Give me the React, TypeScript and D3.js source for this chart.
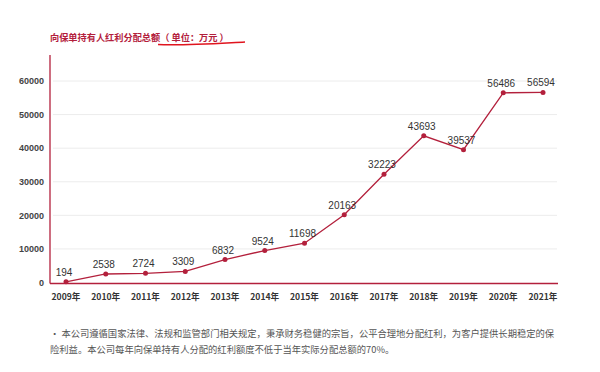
import React from "react";
import * as d3 from "d3";

const years = ["2009年","2010年","2011年","2012年","2013年","2014年","2015年","2016年","2017年","2018年","2019年","2020年","2021年"];
const values = [194, 2538, 2724, 3309, 6832, 9524, 11698, 20163, 32223, 43693, 39537, 56486, 56594];
const yTicks = [0, 10000, 20000, 30000, 40000, 50000, 60000];
const title = "向保单持有人红利分配总额";
const unit = "（ 单位：万元 ）";
const note1 = "• 本公司遵循国家法律、法规和监管部门相关规定，秉承财务稳健的宗旨，公平合理地分配红利，为客户提供长期稳定的保";
const note2 = "险利益。本公司每年向保单持有人分配的红利额度不低于当年实际分配总额的70%。";

const RED = "#b3203c";
const CJK = "'Noto Sans CJK SC', sans-serif";
const NUM = "'Liberation Sans', Arial, sans-serif";

export default function App() {
  const x = d3.scalePoint<string>().domain(years).range([66, 543]);
  const y = d3.scaleLinear().domain([0, 60000]).range([282.5, 81]);
  const line = d3.line<number>().x((_, i) => x(years[i])!).y(d => y(d));
  return (
    <svg width={600} height={372} style={{ position: "absolute", left: 0, top: 0, background: "#fff" }}>
      <rect width={600} height={372} fill="#fff" />
      <text x={50} y={41} fontFamily={CJK} fontSize={9.2} fontWeight="bold" fill={RED}>
        {title}<tspan>{unit}</tspan>
      </text>
      <path d="M158,44.5 C185,45.5 215,43.5 245,42" stroke="#e0141e" strokeWidth={1.6} fill="none" />
      {yTicks.map(t => (
        <g key={t}>
          {t > 0 && <line x1={53} x2={557} y1={y(t)} y2={y(t)} stroke="#ececec" strokeWidth={1} />}
          <text x={44} y={y(t) + 3.2} textAnchor="end" fontFamily={NUM} fontSize={9} fontWeight="bold" fill="#444">{t}</text>
        </g>
      ))}
      <line x1={50} x2={50} y1={55} y2={283.5} stroke={RED} strokeWidth={1.3} />
      <line x1={50} x2={558} y1={283.5} y2={283.5} stroke={RED} strokeWidth={1.3} />
      {years.map(yr => (
        <text key={yr} x={x(yr)} y={299.5} textAnchor="middle" fontFamily={CJK} fontSize={8.6} fontWeight="bold" fill="#333">{yr}</text>
      ))}
      <path d={line(values) || ""} stroke={RED} strokeWidth={1.3} fill="none" />
      {values.map((v, i) => (
        <g key={i}>
          <circle cx={x(years[i])} cy={y(v)} r={2.5} fill={RED} />
          <text x={x(years[i])! - 2} y={y(v) - 6} textAnchor="middle" fontFamily={NUM} fontSize={10} fill="#333">{v}</text>
        </g>
      ))}
      <text x={50} y={337} fontFamily={CJK} fontSize={9.3} fill="#555">{note1}</text>
      <text x={50} y={353} fontFamily={CJK} fontSize={9.3} fill="#555">{note2}</text>
    </svg>
  );
}
